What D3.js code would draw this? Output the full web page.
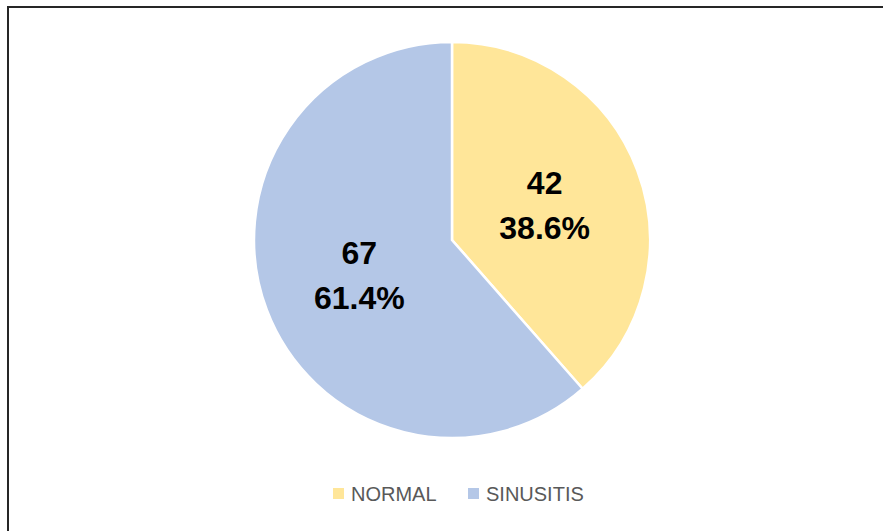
<!DOCTYPE html>
<html>
<head>
<meta charset="utf-8">
<script src="https://cdn.jsdelivr.net/npm/d3@7"></script>
<style>
  body { margin: 0; background: #fff; }
  svg { display: block; }
</style>
</head>
<body>
<div class="container"></div>
<script>
var categories = ['NORMAL', 'SINUSITIS'];
var counts = [42, 67];
var percents = ['38.6%', '61.4%'];
var colors = ['#FFE699', '#B4C7E7'];

const WIDTH = 883;
const HEIGHT = 531;
const CX = 452;
const CY = 240;
const RADIUS = 198;

let translate = (x, y) => `translate(${x},${y})`;

let svg = d3.select('.container').append('svg')
    .attr('width', WIDTH)
    .attr('height', HEIGHT);

// outer frame (runs off the right and bottom edges)
svg.append('rect')
    .attr('x', 8).attr('y', 7)
    .attr('width', WIDTH).attr('height', HEIGHT)
    .attr('fill', '#fff')
    .attr('stroke', '#262626')
    .attr('stroke-width', 2);

let data = categories.map((c, i) => ({ name: c, value: counts[i], pct: percents[i], color: colors[i] }));

let pie = d3.pie().sort(null).value(d => d.value);
let arc = d3.arc().innerRadius(0).outerRadius(RADIUS);

let g = svg.append('g').attr('transform', translate(CX, CY));

let arcs = pie(data);

g.selectAll('path')
    .data(arcs)
    .enter().append('path')
    .attr('d', arc)
    .attr('fill', d => d.data.color)
    .attr('stroke', '#fff')
    .attr('stroke-width', 2.5);

let labels = g.selectAll('text.lbl')
    .data(arcs)
    .enter().append('text')
    .classed('lbl', true)
    .attr('transform', d => {
        let c = arc.centroid(d);
        return translate(c[0], c[1]);
    })
    .attr('text-anchor', 'middle')
    .style('font-family', '"Liberation Sans", Arial, sans-serif')
    .style('font-weight', 'bold')
    .style('font-size', '32px')
    .attr('fill', '#000');

labels.append('tspan').attr('x', 0).attr('y', -11).text(d => d.data.value);
labels.append('tspan').attr('x', 0).attr('y', 34).text(d => d.data.pct);

// legend
let legend = svg.append('g').attr('transform', translate(0, 494));
let lx = 333;
let itemGap = [0, 135];
data.forEach((d, i) => {
    let item = legend.append('g').attr('transform', translate(lx + itemGap[i], 0));
    item.append('rect')
        .attr('x', 0).attr('y', -6)
        .attr('width', 11).attr('height', 11)
        .attr('fill', d.color);
    item.append('text')
        .attr('x', 18).attr('y', 0)
        .attr('dy', '0.35em')
        .style('font-family', '"Liberation Sans", Arial, sans-serif')
        .style('font-size', '20px')
        .attr('fill', '#595959')
        .text(d.name);
});
</script>
</body>
</html>
